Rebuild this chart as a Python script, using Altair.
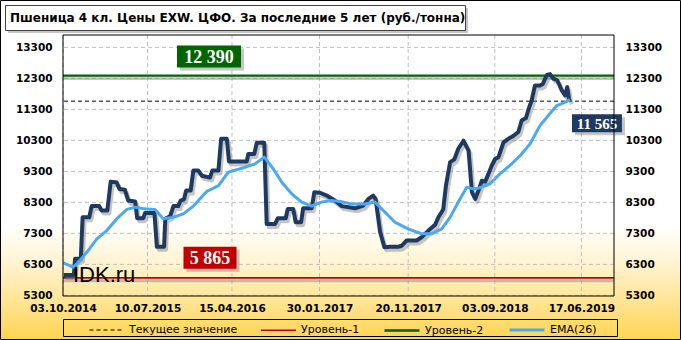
import altair as alt
import pandas as pd

start_date = "2014-10-03"
end_date = "2019-10-03"

# price (days since start, value)
price_days = [3, 36, 40, 59, 65, 87, 95, 120, 128, 147, 158, 178, 187, 205, 216, 239, 246, 266, 272, 303,
              311, 335, 339, 355, 366, 382, 390, 401, 408, 423, 432, 448, 460, 487, 495, 515, 524, 543, 550, 609,
              614, 634, 642, 667, 675, 703, 712, 738, 745, 763, 771, 789, 796, 824, 833, 852, 874, 901, 924, 968,
              995, 1012, 1028, 1036, 1051, 1065, 1084, 1111, 1122, 1139, 1172, 1189, 1211, 1233, 1244, 1260, 1269,
              1283, 1297, 1310, 1327, 1344, 1355, 1366, 1377, 1388, 1399, 1410, 1421, 1432, 1443, 1460, 1476, 1492,
              1509, 1520, 1534, 1545, 1553, 1564, 1581, 1590, 1603, 1614, 1625, 1638, 1653, 1664, 1671, 1677, 1680]
price_vals = [5960, 5960, 6480, 6480, 7820, 7820, 8180, 8180, 8035, 8035, 8970, 8940, 8735, 8710, 8360, 8330, 7790,
              7790, 7960, 7960, 6870, 6870, 7770, 7855, 8180, 8180, 8360, 8400, 8680, 8680, 9330, 9330, 9160, 9100,
              9330, 9330, 10350, 10350, 9620, 9620, 9865, 9865, 10220, 10220, 7605, 7605, 7790, 7790, 8090, 8090,
              7660, 7660, 8110, 8110, 8630, 8610, 8520, 8360, 8180, 8110, 8200, 8410, 8520, 8410, 7340, 6855, 6870,
              6870, 6900, 7070, 7070, 7180, 7390, 7575, 7820, 8070, 8840, 9600, 9690, 10030, 10290, 9970, 8630, 8410,
              8680, 9000, 8970, 9220, 9490, 9700, 9760, 10240, 10350, 10440, 10570, 10940, 11020, 11370, 11580,
              12070, 12070, 12120, 12410, 12440, 12290, 12240, 11910, 11750, 12020, 11640, 11565]

ema_days = [1, 34, 51, 79, 112, 145, 178, 211, 239, 272, 305, 332, 366, 399, 432, 476, 515, 548, 592, 636, 667,
            697, 725, 758, 791, 824, 857, 890, 918, 956, 1001, 1034, 1067, 1100, 1144, 1189, 1222, 1255, 1283,
            1310, 1338, 1360, 1377, 1415, 1448, 1481, 1515, 1548, 1581, 1608, 1636, 1664, 1680]
ema_vals = [6350, 6210, 6370, 6690, 7120, 7390, 7770, 8070, 8145, 8090, 8070, 7770, 7820, 7930, 8180, 8650, 8840,
            9275, 9400, 9540, 9760, 9380, 8950, 8575, 8310, 8180, 8310, 8360, 8330, 8250, 8250, 8310, 7985, 7660,
            7445, 7285, 7285, 7445, 7820, 8310, 8790, 8735, 8760, 8900, 9220, 9490, 9810, 10190, 10780, 11100,
            11420, 11530, 11615]

level1 = 5865
level2 = 12390
current_value = 11565

y_ticks = [5300, 6300, 7300, 8300, 9300, 10300, 11300, 12300, 13300]
x_ticks = ["2014-10-03", "2015-07-10", "2016-04-15", "2017-01-30", "2017-11-20", "2018-09-03", "2019-06-17"]

legend_names = ["Текущее значение", "Уровень-1", "Уровень-2", "EMA(26)"]
legend_colors = ["#000000", "#C00000", "#006400", "#4AA8F5"]
legend_dashes = [[4, 3], [1, 0], [1, 0], [1, 0]]
legend_widths = [1, 3, 3, 3]

title_text = "Пшеница 4 кл. Цены EXW. ЦФО. За последние 5 лет (руб./тонна)"
watermark = "IDK.ru"

PRICE_COLOR = "#1F3A60"


def fmt(v):
    return f"{v:,}".replace(",", " ")


def ms(s):
    return int(pd.Timestamp(s, tz="UTC").timestamp() * 1000)


base = pd.Timestamp(start_date)
price_df = pd.DataFrame({
    "date": [(base + pd.Timedelta(days=d)).strftime("%Y-%m-%d") for d in price_days],
    "v": price_vals,
})
ema_df = pd.DataFrame({
    "date": [(base + pd.Timedelta(days=d)).strftime("%Y-%m-%d") for d in ema_days],
    "v": ema_vals,
    "series": "EMA(26)",
})
rules_df = pd.DataFrame({"series": legend_names[:3], "v": [current_value, level1, level2]})
levels_df = pd.DataFrame({"v": [level1, level2]})
ytick_df = pd.DataFrame({"v": y_ticks})
xtick_df = pd.DataFrame({"date": x_ticks})
one = pd.DataFrame({"a": [0]})

xscale = alt.Scale(type="utc", domain=[ms(start_date), ms(end_date)], nice=False)
yscale = alt.Scale(domain=[5280, 13700], nice=False, zero=False)

W, H = 551, 261

x_axis = alt.Axis(values=[ms(t) for t in x_ticks], labelExpr="utcFormat(datum.value, '%d.%m.%Y')",
                  labelPadding=7, labelOverlap=False, labelBound=False, labelFlush=False,
                  title=None, zindex=1)
y_axis_kw = dict(values=y_ticks, labelExpr="format(datum.value, 'd')", labelPadding=11,
                 labelOverlap=False, title=None, zindex=1)


def Y(field="v:Q"):
    return alt.Y(field, scale=yscale, axis=None)


color_enc = alt.Color("series:N", scale=alt.Scale(domain=legend_names, range=legend_colors), title=None)
dash_enc = alt.StrokeDash("series:N", scale=alt.Scale(domain=legend_names, range=legend_dashes), title=None)
width_enc = alt.StrokeWidth("series:N", scale=alt.Scale(domain=legend_names, range=legend_widths), title=None)

gradient = alt.Gradient(
    gradient="linear", x1=0, x2=0, y1=0, y2=1,
    stops=[alt.GradientStop(color="#FFFFFF", offset=0),
           alt.GradientStop(color="#FFFFFF", offset=0.66),
           alt.GradientStop(color="#FFF3CE", offset=0.78),
           alt.GradientStop(color="#FFE38C", offset=0.9),
           alt.GradientStop(color="#FFD452", offset=1)])

bg = alt.Chart(one).mark_rect(fill=gradient, stroke="black", strokeWidth=1).encode(
    x=alt.value(-62.5), x2=alt.value(617.5), y=alt.value(-34.5), y2=alt.value(304.5))

title_shadow = alt.Chart(one).mark_rect(fill="#A0A0A0", opacity=0.6).encode(
    x=alt.value(-55), x2=alt.value(405), y=alt.value(-27), y2=alt.value(-2))
title_box = alt.Chart(one).mark_rect(fill="white", stroke="#404040", strokeWidth=1).encode(
    x=alt.value(-57.5), x2=alt.value(402.5), y=alt.value(-29.5), y2=alt.value(-4.5))
title_mark = alt.Chart(one).mark_text(text=title_text, font="DejaVu Sans", fontWeight="bold",
                                      fontSize=12, color="black", align="left", baseline="alphabetic").encode(
    x=alt.value(-53), y=alt.value(-13))

ygrid = alt.Chart(ytick_df).mark_rule(color="#BFBFBF", strokeDash=[4, 3], strokeWidth=1).encode(y=Y())
xgrid = alt.Chart(xtick_df).mark_rule(color="#BFBFBF", strokeDash=[4, 3], strokeWidth=1).encode(
    x=alt.X("date:T", scale=xscale, axis=x_axis))

level_shadow = alt.Chart(levels_df).mark_rule(color="#8C8C8C", opacity=0.5, strokeWidth=3, yOffset=3).encode(
    y=Y())

rules = alt.Chart(rules_df).mark_rule().encode(
    y=Y(), color=color_enc, strokeDash=dash_enc, strokeWidth=width_enc)

price_shadow = alt.Chart(price_df).mark_line(color="#7F7F7F", opacity=0.45, strokeWidth=4,
                                             strokeJoin="round", xOffset=2, yOffset=3).encode(
    x=alt.X("date:T", scale=xscale), y=Y())
price = alt.Chart(price_df).mark_line(color=PRICE_COLOR, strokeWidth=4, strokeJoin="round").encode(
    x=alt.X("date:T", scale=xscale), y=Y())

ema = alt.Chart(ema_df).mark_line(strokeJoin="round").encode(
    x=alt.X("date:T", scale=xscale), y=Y(),
    color=color_enc, strokeDash=dash_enc, strokeWidth=width_enc)


def label_box(value, text, fill, box_w, box_h, xpos=None, date=None, xoff=0, yoff=0, fsize=18):
    path = f"M-1,-{box_h / box_w:.3f}H1V{box_h / box_w:.3f}H-1Z"
    if date is not None:
        xenc = alt.X(datum=ms(date), type="temporal", scale=xscale)
    else:
        xenc = alt.value(xpos)
    yenc = alt.Y(datum=value, type="quantitative", scale=yscale, axis=None)
    shadow = alt.Chart(one).mark_point(shape=path, size=box_w ** 2, filled=True, fill="#808080",
                                       opacity=0.45, strokeWidth=0, xOffset=xoff + 3, yOffset=yoff + 3).encode(
        x=xenc, y=yenc)
    box = alt.Chart(one).mark_point(shape=path, size=box_w ** 2, filled=True, fill=fill, opacity=1,
                                    strokeWidth=0, xOffset=xoff, yOffset=yoff).encode(x=xenc, y=yenc)
    txt = alt.Chart(one).mark_text(text=text, font="Liberation Serif", fontWeight="bold", fontSize=fsize,
                                   color="white", align="center", baseline="middle",
                                   dx=xoff, dy=yoff + 1).encode(x=xenc, y=yenc)
    return [shadow, box, txt]


last_date = (base + pd.Timedelta(days=price_days[-1])).strftime("%Y-%m-%d")
boxes = (label_box(level2, fmt(level2), "#006400", 64, 22, xpos=146, yoff=-19)
         + label_box(level1, fmt(level1), "#C00000", 53, 22, xpos=147, yoff=-20)
         + label_box(current_value, fmt(current_value), "#1F3A60", 50, 18, date=last_date, xoff=27, yoff=22,
                     fsize=15))

wm = alt.Chart(one).mark_text(text=watermark, font="Liberation Sans", fontSize=22, color="black",
                              align="left", baseline="alphabetic").encode(x=alt.value(10), y=alt.value(247))

frame = alt.Chart(one).mark_rect(filled=False, stroke="black", strokeWidth=1).encode(
    x=alt.value(0), x2=alt.value(W), y=alt.value(0), y2=alt.value(H))

legend_box = alt.Chart(one).mark_rect(filled=False, stroke="black", strokeWidth=1).encode(
    x=alt.value(0.5), x2=alt.value(554.5), y=alt.value(284.5), y2=alt.value(301.5))

main = alt.layer(bg, title_shadow, title_box, title_mark, ygrid, xgrid, level_shadow, rules,
                 price_shadow, price, ema, *boxes, wm, frame, legend_box)

left = alt.Chart(ytick_df).mark_point(opacity=0).encode(
    y=alt.Y("v:Q", scale=yscale, axis=alt.Axis(orient="left", **y_axis_kw)))
right = alt.Chart(ytick_df).mark_point(opacity=0).encode(
    y=alt.Y("v:Q", scale=yscale, axis=alt.Axis(orient="right", **y_axis_kw)))

chart = alt.layer(main, left, right).resolve_scale(y="independent").properties(
    width=W, height=H,
    autosize=alt.AutoSizeParams(type="none"),
    padding={"left": 63, "top": 35, "right": 67, "bottom": 44},
    background="white",
).configure_view(stroke=None).configure_axis(
    grid=False, domain=False, ticks=False, labelFont="DejaVu Sans", labelFontWeight="bold",
    labelFontSize=10.5, labelColor="black", labelOverlap=False
).configure_legend(
    orient="none", legendX=26, legendY=276, direction="horizontal", symbolType="stroke",
    symbolSize=1225, labelFont="DejaVu Sans", labelFontSize=11, labelColor="black",
    columnPadding=19, labelOffset=4, padding=0)

chart.save("out.html", embed_options={"renderer": "svg", "actions": False})
